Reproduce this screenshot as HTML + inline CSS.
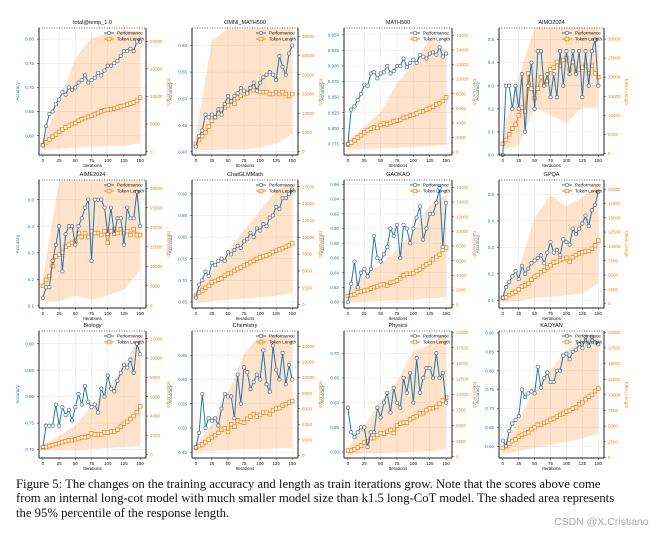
<!DOCTYPE html>
<html><head><meta charset="utf-8">
<style>
html,body{margin:0;padding:0;background:#fff;}
#wrap{position:relative;width:667px;height:536px;overflow:hidden;background:#fff;}
svg{position:absolute;left:0;top:0;}
#caption{position:absolute;left:16px;top:477px;width:620px;font-family:"Liberation Serif",serif;font-size:12.7px;line-height:14.4px;color:#111;white-space:nowrap;}
#wm{position:absolute;left:554px;top:516px;font-family:"Liberation Sans",sans-serif;font-size:10.5px;color:#aaa;}
</style></head><body>
<div id="wrap">
<svg id="chart" width="667" height="536"></svg>
<div id="caption">Figure 5: The changes on the training accuracy and length as train iterations grow. Note that the scores above come<br>from an internal long-cot model with much smaller model size than k1.5 long-CoT model. The shaded area represents<br>the 95% percentile of the response length.</div>
<div id="wm">CSDN @X.Cristiano</div>
</div>
<script>
const iterations = [0,5,10,15,20,25,30,35,40,45,50,55,60,65,70,75,80,85,90,95,100,105,110,115,120,125,130,135,140,145,150];
const bandIterations = [0,25,50,75,100,125,150];
const xTicks = [0,25,50,75,100,125,150];
const titles = ["total@temp_1.0","OMNI_MATH500","MATH500","AIMO2024","AIME2024","ChatGLMMath","GAOKAO","GPQA","Biology","Chemistry","Physics","KAOYAN"];

const perf1 = [0.58,0.62,0.645,0.65,0.665,0.675,0.69,0.685,0.70,0.695,0.70,0.71,0.715,0.725,0.71,0.715,0.72,0.73,0.725,0.735,0.745,0.745,0.75,0.755,0.765,0.775,0.775,0.78,0.775,0.795,0.795];
const len1 = [1200,1700,2200,2700,3100,3600,4000,4400,4700,5000,5200,5600,5900,6100,6300,6500,6800,7000,7300,7500,7600,7700,7800,8000,8200,8300,8500,8700,8900,9200,9800];
const hi1 = [2000,9000,17000,20500,21500,22000,21800];
const lo1 = [300,500,700,900,1000,1100,1500];

const perf2 = [0.41,0.43,0.44,0.47,0.465,0.47,0.465,0.48,0.47,0.49,0.505,0.495,0.505,0.51,0.52,0.515,0.51,0.52,0.53,0.515,0.53,0.54,0.545,0.55,0.545,0.535,0.58,0.56,0.545,0.585,0.60];
const len2 = [2000,3000,4000,5000,6500,8000,9000,10000,11000,11500,12000,13000,12500,14000,14500,15000,15500,16500,16000,16000,15500,15500,15500,15000,15000,15500,15000,15500,15000,14500,15000];
const hi2 = [4000,29000,32000,32000,32000,32000,32000];
const lo2 = [300,400,500,600,1000,2000,4500];

const perf3 = [0.775,0.83,0.835,0.845,0.855,0.87,0.868,0.888,0.89,0.88,0.888,0.89,0.90,0.888,0.892,0.90,0.90,0.912,0.898,0.905,0.91,0.905,0.918,0.915,0.912,0.92,0.922,0.918,0.93,0.915,0.92];
const len3 = [1000,1300,1600,2000,2300,2700,3000,3200,3400,3300,3700,3900,3800,4000,4200,4300,4400,4700,4800,5000,5100,5300,5500,5600,5800,6000,6200,6500,6700,7000,7500];
const hi3 = [1500,3500,5500,9500,12000,15500,14000];
const lo3 = [300,400,500,600,700,800,1000];

const perf4 = [0.0,0.3,0.3,0.2,0.3,0.2,0.35,0.1,0.3,0.4,0.2,0.45,0.45,0.3,0.35,0.25,0.35,0.25,0.45,0.3,0.45,0.35,0.45,0.35,0.45,0.25,0.45,0.3,0.45,0.5,0.3];
const len4 = [2500,3500,5000,6500,7500,10000,12000,11000,21000,17000,14500,17000,20000,18000,19000,22000,22500,24000,23000,24500,25000,22000,24000,21500,22000,22500,23000,21000,23000,21000,20000];
const hi4 = [5000,20000,33000,33000,33000,33000,33000];
const lo4 = [1000,2000,12000,10000,8000,12000,12000];

const perf5 = [0.13,0.17,0.17,0.27,0.33,0.4,0.23,0.37,0.4,0.4,0.33,0.4,0.43,0.47,0.5,0.27,0.5,0.5,0.5,0.47,0.37,0.47,0.37,0.43,0.43,0.33,0.47,0.43,0.43,0.53,0.4];
const len5 = [5000,6500,7500,10000,12500,13000,13500,15000,15500,16000,16500,18500,17500,18500,17500,19000,18500,18500,18000,19000,16000,19000,19500,18500,19500,18500,19000,18000,19500,18000,18000];
const hi5 = [7000,32000,32000,32000,32000,32000,32000];
const lo5 = [1000,1000,2500,1500,2500,4000,9000];

const perf6 = [0.66,0.69,0.70,0.72,0.71,0.74,0.735,0.745,0.75,0.745,0.765,0.76,0.77,0.78,0.775,0.79,0.795,0.81,0.80,0.82,0.815,0.83,0.825,0.845,0.85,0.87,0.865,0.89,0.89,0.90,0.91];
const len6 = [1300,1800,2100,2500,2800,3300,3500,3700,3900,4300,4600,4700,5000,5300,5500,5800,6000,6300,6500,6800,7000,7200,7300,7500,7800,8000,8200,8400,8600,8800,9100];
const hi6 = [2000,5000,8000,11000,14000,17000,18000];
const lo6 = [300,500,700,900,1100,1300,1800];

const perf7 = [0.80,0.825,0.855,0.82,0.84,0.845,0.835,0.845,0.89,0.86,0.855,0.865,0.875,0.90,0.89,0.905,0.86,0.905,0.90,0.88,0.90,0.915,0.93,0.885,0.90,0.92,0.92,0.935,0.955,0.875,0.935];
const len7 = [1200,1300,1400,1700,1800,1900,2000,2200,2400,2500,2700,2800,2600,3000,3100,3300,3600,4000,4200,4200,4300,4600,4800,5200,5500,5700,6200,6500,6800,7500,7800];
const hi7 = [2000,4000,5500,7500,10000,13500,15000];
const lo7 = [300,400,500,600,700,900,1000];

const perf8 = [0.11,0.15,0.17,0.19,0.21,0.18,0.23,0.2,0.22,0.24,0.25,0.26,0.27,0.24,0.28,0.32,0.28,0.29,0.27,0.33,0.32,0.31,0.37,0.35,0.37,0.39,0.42,0.38,0.44,0.46,0.51];
const len8 = [1000,1100,1500,1800,2100,2500,3000,3200,3500,4200,4700,5000,5500,5800,6300,6700,7200,7300,7600,7800,8000,7300,8100,8500,8800,9000,9100,9200,9600,10200,11000];
const hi8 = [2000,6000,15000,19000,17000,18500,21000];
const lo8 = [200,500,1000,1200,1500,1800,3500];

const perf9 = [0.705,0.745,0.745,0.745,0.785,0.745,0.78,0.765,0.775,0.755,0.78,0.805,0.785,0.82,0.79,0.78,0.785,0.77,0.815,0.80,0.84,0.815,0.81,0.83,0.845,0.86,0.855,0.87,0.845,0.90,0.88];
const len9 = [700,800,900,1000,1100,1200,1300,1400,1500,1500,1600,1700,1800,1800,1900,2200,2100,2100,2100,2300,2300,2400,2400,2600,2900,3200,3400,3700,4000,4400,5000];
const hi9 = [1000,2000,3000,5000,7000,9000,12800];
const lo9 = [500,500,500,600,700,800,900];

const perf10 = [0.46,0.49,0.57,0.50,0.52,0.515,0.52,0.505,0.54,0.57,0.565,0.565,0.52,0.61,0.55,0.625,0.615,0.58,0.595,0.61,0.6,0.66,0.59,0.575,0.67,0.62,0.6,0.655,0.59,0.63,0.60];
const len10 = [1000,1200,1400,1700,2000,2300,2600,2900,3300,3500,3000,4000,3700,4500,4300,4200,4700,5000,5300,5000,5200,5500,5500,5300,5800,6000,6100,6400,6600,6800,7000];
const hi10 = [1500,4000,8000,13000,15500,15500,15000];
const lo10 = [500,600,700,800,800,900,1000];

const perf11 = [0.59,0.54,0.53,0.54,0.55,0.55,0.51,0.54,0.54,0.59,0.57,0.6,0.62,0.58,0.63,0.6,0.59,0.65,0.62,0.66,0.6,0.69,0.62,0.65,0.67,0.67,0.65,0.70,0.65,0.66,0.60];
const len11 = [1000,1000,1200,1500,1800,2300,2500,3000,3000,3500,3800,3700,4000,4300,3800,5000,5300,5500,5500,6000,6300,6500,7000,7000,7500,7800,7800,8000,8500,9000,9500];
const hi11 = [1500,5000,9000,12000,17000,18000,20000];
const lo11 = [300,500,600,700,800,900,1200];

const perf12 = [0.615,0.60,0.64,0.66,0.67,0.68,0.75,0.73,0.74,0.745,0.74,0.81,0.755,0.78,0.795,0.77,0.77,0.80,0.80,0.84,0.845,0.83,0.85,0.855,0.87,0.86,0.89,0.865,0.89,0.875,0.87];
const len12 = [1500,1800,2200,2600,2900,3300,3600,3800,4000,4500,4800,5200,5200,5500,5700,6000,6200,6500,6800,7000,7300,7500,7800,8000,8500,8800,9300,9700,10000,10600,11000];
const hi12 = [2000,6000,11000,14000,17000,19000,19500];
const lo12 = [500,1000,1500,2000,2500,3000,4000];

const perfSeries = [perf1,perf2,perf3,perf4,perf5,perf6,perf7,perf8,perf9,perf10,perf11,perf12];
const lenSeries = [len1,len2,len3,len4,len5,len6,len7,len8,len9,len10,len11,len12];
const hiSeries = [hi1,hi2,hi3,hi4,hi5,hi6,hi7,hi8,hi9,hi10,hi11,hi12];
const loSeries = [lo1,lo2,lo3,lo4,lo5,lo6,lo7,lo8,lo9,lo10,lo11,lo12];

const leftTicks = [
 [0.60,0.65,0.70,0.75,0.80],[0.40,0.45,0.50,0.55,0.60],[0.775,0.800,0.825,0.850,0.875,0.900,0.925,0.950],[0.0,0.1,0.2,0.3,0.4,0.5],
 [0.1,0.2,0.3,0.4,0.5],[0.65,0.70,0.75,0.80,0.85,0.90],[0.80,0.82,0.84,0.86,0.88,0.90,0.92,0.94,0.96],[0.1,0.2,0.3,0.4,0.5],
 [0.70,0.75,0.80,0.85,0.90],[0.45,0.50,0.55,0.60,0.65],[0.50,0.55,0.60,0.65,0.70],[0.60,0.65,0.70,0.75,0.80,0.85,0.90]];
const leftDomains = [[0.56,0.823],[0.394,0.633],[0.757,0.961],[0.0,0.55],[0.092,0.574],[0.636,0.932],[0.792,0.966],[0.071,0.554],[0.684,0.924],[0.438,0.70],[0.488,0.745],[0.569,0.905]];
const rightTicks = [
 [0,5000,10000,15000,20000],[0,5000,10000,15000,20000,25000,30000],[0,2000,4000,6000,8000,10000,12000,14000,16000],[0,5000,10000,15000,20000,25000,30000],
 [0,5000,10000,15000,20000,25000,30000],[0,2500,5000,7500,10000,12500,15000,17500],[0,2000,4000,6000,8000,10000,12000,14000,16000],[0,2500,5000,7500,10000,12500,15000,17500,20000],
 [0,2000,4000,6000,8000,10000,12000],[0,2000,4000,6000,8000,10000,12000,14000],[0,2500,5000,7500,10000,12500,15000,17500,20000],[0,2500,5000,7500,10000,12500,15000,17500,20000]];
const rightDomains = [[-600,22400],[-900,32200],[-400,17000],[-440,32900],[-700,32100],[-500,18500],[-450,17000],[-760,21600],[-340,12800],[-340,16000],[-200,20200],[-100,20200]];

const colX = [[39,146],[192,298],[344,452],[499,604]];
const rowY = [[28,155],[180,308],[331,458]];
const X_MIN = -6, X_MAX = 159;
const BLUE = "#1f77b4", ORANGE = "#ff7f0e";
const NS = "http://www.w3.org/2000/svg";
const svg = document.getElementById("chart");

function mk(tag, attrs, parent){
  const e = document.createElementNS(NS, tag);
  for (const k in attrs) e.setAttribute(k, attrs[k]);
  (parent||svg).appendChild(e);
  return e;
}
function fmt(v, ticks){
  let dec = 0;
  ticks.forEach(t=>{const s=String(t); const i=s.indexOf('.'); if(i>=0) dec=Math.max(dec,s.length-i-1);});
  if (ticks[0] < 1 && dec < 2) dec = Math.max(dec, (ticks[1]-ticks[0])<0.1 ? 2 : 1);
  return v.toFixed(dec);
}

for (let p = 0; p < 12; p++) {
  const [x0,x1] = colX[p%4];
  const [y0,y1] = rowY[Math.floor(p/4)];
  const g = mk("g", {});
  
  
  const xs = v => x0 + (v - X_MIN) / (X_MAX - X_MIN) * (x1 - x0);
  const [la,lb] = leftDomains[p];
  const yl = v => y1 - (v - la) / (lb - la) * (y1 - y0);
  const [ra,rb] = rightDomains[p];
  const yr = v => y1 - (v - ra) / (rb - ra) * (y1 - y0);

  xTicks.forEach(t => mk("line",{x1:xs(t),x2:xs(t),y1:y0,y2:y1,stroke:"#e6e6e6","stroke-width":0.5},g));
  leftTicks[p].forEach(t => { if (yl(t)>=y0 && yl(t)<=y1) mk("line",{x1:x0,x2:x1,y1:yl(t),y2:yl(t),stroke:"#e6e6e6","stroke-width":0.5},g); });

  let pts = bandIterations.map((it,i)=>xs(it)+","+yr(hiSeries[p][i]));
  pts = pts.concat(bandIterations.map((it,i)=>xs(it)+","+yr(loSeries[p][i])).reverse());
  const band = mk("polygon",{points:pts.join(" "),fill:ORANGE,"fill-opacity":0.22,stroke:"none"},g);
  
  

  const lpts = iterations.map((it,i)=>xs(it)+","+yr(lenSeries[p][i])).join(" ");
  const ll = mk("polyline",{points:lpts,fill:"none",stroke:ORANGE,"stroke-width":1},g);
  
  
  iterations.forEach((it,i)=>{
    const s = mk("rect",{x:xs(it)-1.8,y:yr(lenSeries[p][i])-1.8,width:3.6,height:3.6,fill:"#fff",stroke:ORANGE,"stroke-width":0.8},g);
    
    
  });

  const ppts = iterations.map((it,i)=>xs(it)+","+yl(perfSeries[p][i])).join(" ");
  const pl = mk("polyline",{points:ppts,fill:"none",stroke:BLUE,"stroke-width":1},g);
  
  
  iterations.forEach((it,i)=>{
    const c = mk("circle",{cx:xs(it),cy:yl(perfSeries[p][i]),r:1.7,fill:"#fff",stroke:"#52738f","stroke-width":0.7},g);
    
    
  });

  mk("line",{x1:x0,x2:x0,y1:y0,y2:y1,stroke:"#222","stroke-width":1},g);
  mk("line",{x1:x1,x2:x1,y1:y0,y2:y1,stroke:"#222","stroke-width":1},g);
  mk("line",{x1:x0,x2:x1,y1:y1,y2:y1,stroke:"#222","stroke-width":1},g);
  mk("line",{x1:x0,x2:x1,y1:y0,y2:y0,stroke:"#444","stroke-width":0.8,"stroke-dasharray":"1,1.5"},g);

  xTicks.forEach(t=>{
    mk("line",{x1:xs(t),x2:xs(t),y1:y1,y2:y1+2,stroke:"#222","stroke-width":0.5},g);
    const tx = mk("text",{x:xs(t),y:y1+7,"font-size":4.5,"text-anchor":"middle","font-family":"Liberation Sans, sans-serif",fill:"#111"},g);
    tx.textContent = t;
  });
  const xl = mk("text",{x:(x0+x1)/2,y:y1+12,"font-size":4.5,"text-anchor":"middle","font-family":"Liberation Sans, sans-serif",fill:"#111"},g);
  
  
  xl.textContent = "Iterations";

  leftTicks[p].forEach(t=>{
    const y = yl(t);
    if (y < y0-2 || y > y1+2) return;
    mk("line",{x1:x0-2,x2:x0,y1:y,y2:y,stroke:"#222","stroke-width":0.5},g);
    const tx = mk("text",{x:x0-5,y:y+1.6,"font-size":4.5,"text-anchor":"end","font-family":"Liberation Sans, sans-serif",fill:BLUE},g);
    tx.textContent = fmt(t, leftTicks[p]);
  });
  const ylab = mk("text",{x:0,y:0,"font-size":4.5,"text-anchor":"middle","font-family":"Liberation Sans, sans-serif",fill:BLUE,transform:`translate(${x0-20},${(y0+y1)/2}) rotate(-90)`},g);
  
  
  ylab.textContent = "Accuracy";

  rightTicks[p].forEach(t=>{
    const y = yr(t);
    if (y < y0-2 || y > y1+2) return;
    mk("line",{x1:x1,x2:x1+2,y1:y,y2:y,stroke:"#222","stroke-width":0.5},g);
    const tx = mk("text",{x:x1+4,y:y+1.6,"font-size":4.5,"text-anchor":"start","font-family":"Liberation Sans, sans-serif",fill:ORANGE},g);
    tx.textContent = t;
  });
  const rlab = mk("text",{x:0,y:0,"font-size":4.5,"text-anchor":"middle","font-family":"Liberation Sans, sans-serif",fill:ORANGE,transform:`translate(${x1+21},${(y0+y1)/2}) rotate(90)`},g);
  
  
  rlab.textContent = "Token Length";

  const tt = mk("text",{x:(x0+x1)/2,y:y0-4,"font-size":5.5,"text-anchor":"middle","font-family":"Liberation Sans, sans-serif",fill:"#111"},g);
  
  
  tt.textContent = titles[p];

  const lx = x1 - 42, ly = y0 + 5;
  const lg = mk("g",{},g);
  
  
  mk("line",{x1:lx,x2:lx+10,y1:ly,y2:ly,stroke:BLUE,"stroke-width":1},lg);
  mk("circle",{cx:lx+5,cy:ly,r:1.7,fill:"#fff",stroke:"#52738f","stroke-width":0.7},lg);
  const t1 = mk("text",{x:lx+13,y:ly+1.6,"font-size":4.5,"font-family":"Liberation Sans, sans-serif",fill:"#111"},lg);
  t1.textContent = "Performance";
  mk("line",{x1:lx,x2:lx+10,y1:ly+6,y2:ly+6,stroke:ORANGE,"stroke-width":1},lg);
  mk("rect",{x:lx+3.2,y:ly+4.2,width:3.6,height:3.6,fill:"#fff",stroke:ORANGE,"stroke-width":0.8},lg);
  const t2 = mk("text",{x:lx+13,y:ly+7.6,"font-size":4.5,"font-family":"Liberation Sans, sans-serif",fill:"#111"},lg);
  t2.textContent = "Token Length";
}
</script>
</body></html>
